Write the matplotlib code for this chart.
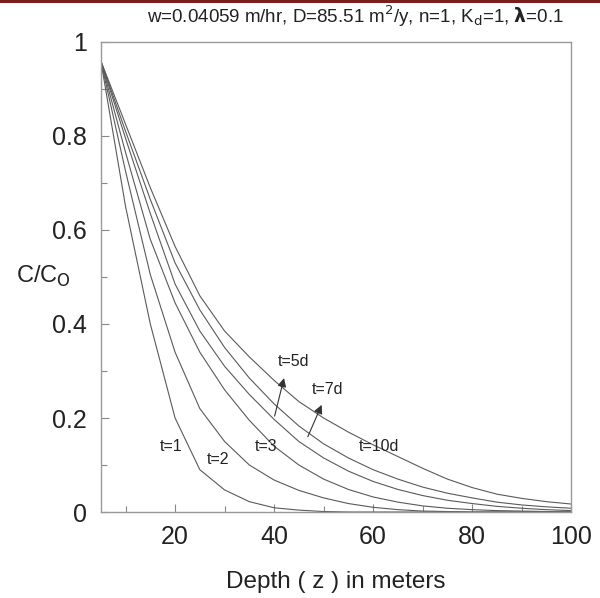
import numpy as np
import matplotlib
matplotlib.use("Agg")
import matplotlib.pyplot as plt
from matplotlib.patches import Rectangle
from matplotlib.ticker import MultipleLocator

# depth in meters, sampled every 5 m
depth = [5, 10, 15, 20, 25, 30, 35, 40, 45, 50, 55, 60, 65, 70, 75, 80, 85, 90, 95, 100]

# C/Co for each time
c_t1 = [0.96, 0.65, 0.40, 0.20, 0.09, 0.047, 0.022, 0.009, 0.004, 0.001, 0, 0, 0, 0, 0, 0, 0, 0, 0, 0]
c_t2 = [0.96, 0.725, 0.505, 0.34, 0.22, 0.15, 0.10, 0.068, 0.046, 0.03, 0.018, 0.01, 0.005, 0.002, 0.001, 0, 0, 0, 0, 0]
c_t3 = [0.96, 0.765, 0.58, 0.445, 0.34, 0.26, 0.195, 0.14, 0.10, 0.07, 0.048, 0.032, 0.021, 0.013, 0.008, 0.005, 0.003, 0.002, 0.001, 0]
c_t5 = [0.96, 0.795, 0.635, 0.485, 0.385, 0.31, 0.25, 0.197, 0.15, 0.115, 0.087, 0.065, 0.048, 0.035, 0.025, 0.018, 0.012, 0.008, 0.005, 0.003]
c_t7 = [0.96, 0.81, 0.665, 0.53, 0.43, 0.35, 0.285, 0.23, 0.183, 0.145, 0.115, 0.09, 0.07, 0.053, 0.04, 0.03, 0.021, 0.015, 0.011, 0.008]
c_t10 = [0.96, 0.825, 0.69, 0.565, 0.46, 0.385, 0.33, 0.28, 0.235, 0.20, 0.17, 0.143, 0.118, 0.093, 0.07, 0.052, 0.038, 0.029, 0.022, 0.017]

curves = [c_t1, c_t2, c_t3, c_t5, c_t7, c_t10]

# curve labels: text, x, y
labels = ["t=1", "t=2", "t=3", "t=5d", "t=7d", "t=10d"]
label_x = [19.1, 28.7, 38.4, 43.9, 50.7, 61.2]
label_y = [0.139, 0.111, 0.139, 0.321, 0.26, 0.14]

# arrows for t=5d and t=7d: (base x, base y, tip x, tip y)
arrows = [(40.1, 0.204, 42.0, 0.285), (46.8, 0.160, 49.6, 0.228)]

plt.rcParams['font.family'] = ['Liberation Sans', 'DejaVu Sans']
txt = '#222222'

fig = plt.figure(figsize=(6.0, 5.98), dpi=100)
ax = fig.add_axes([0.168, 0.1438, 0.784, 0.786])

for c in curves:
    ax.plot(depth, c, color='#5a5a5a', lw=0.8)

for s, x, y in zip(labels, label_x, label_y):
    ax.text(x, y, s, fontsize=11.5, color=txt, ha='center', va='center')

for x0, y0, x1, y1 in arrows:
    ax.annotate('', xy=(x1, y1), xytext=(x0, y0),
                arrowprops=dict(arrowstyle='-|>', color='#333333', lw=0.8,
                                mutation_scale=13, shrinkA=0, shrinkB=0))

ax.set_xlim(5, 100)
ax.set_ylim(0, 1)
ax.xaxis.set_major_locator(MultipleLocator(20))
ax.xaxis.set_minor_locator(MultipleLocator(10))
ax.yaxis.set_major_locator(MultipleLocator(0.2))
ax.yaxis.set_minor_locator(MultipleLocator(0.1))
ax.set_yticks([0, 0.2, 0.4, 0.6, 0.8, 1.0])
ax.set_yticklabels(["0", "0.2", "0.4", "0.6", "0.8", "1"])
ax.tick_params(which='both', direction='in', colors='#888888', labelcolor=txt,
               labelsize=18, width=0.8)
ax.tick_params(which='major', length=6)
ax.tick_params(which='minor', length=4)
ax.tick_params(axis='x', pad=9)
ax.tick_params(axis='y', pad=10)
for sp in ax.spines.values():
    sp.set_color('#999999')
    sp.set_linewidth(1.0)

ax.set_xlabel("Depth ( z ) in meters", fontsize=17.5, color=txt, labelpad=16)
fig.text(0.073, 0.537, r"C/C$_\mathrm{O}$", fontsize=17, color=txt, ha='center', va='center')

fig.text(0.592, 0.972,
         r"w=0.04059 m/hr, D=85.51 m$^\mathrm{2}$/y, n=1, K$_\mathrm{d}$=1, $\mathbf{\lambda}$=0.1",
         fontsize=13.5, color=txt, ha='center', va='center')

# dark red bar along the top edge
fig.add_artist(Rectangle((0, 1 - 3 / 598), 1, 3 / 598, transform=fig.transFigure,
                         color='#7a1e1e', lw=0))

fig.savefig("out.png", dpi=100)
